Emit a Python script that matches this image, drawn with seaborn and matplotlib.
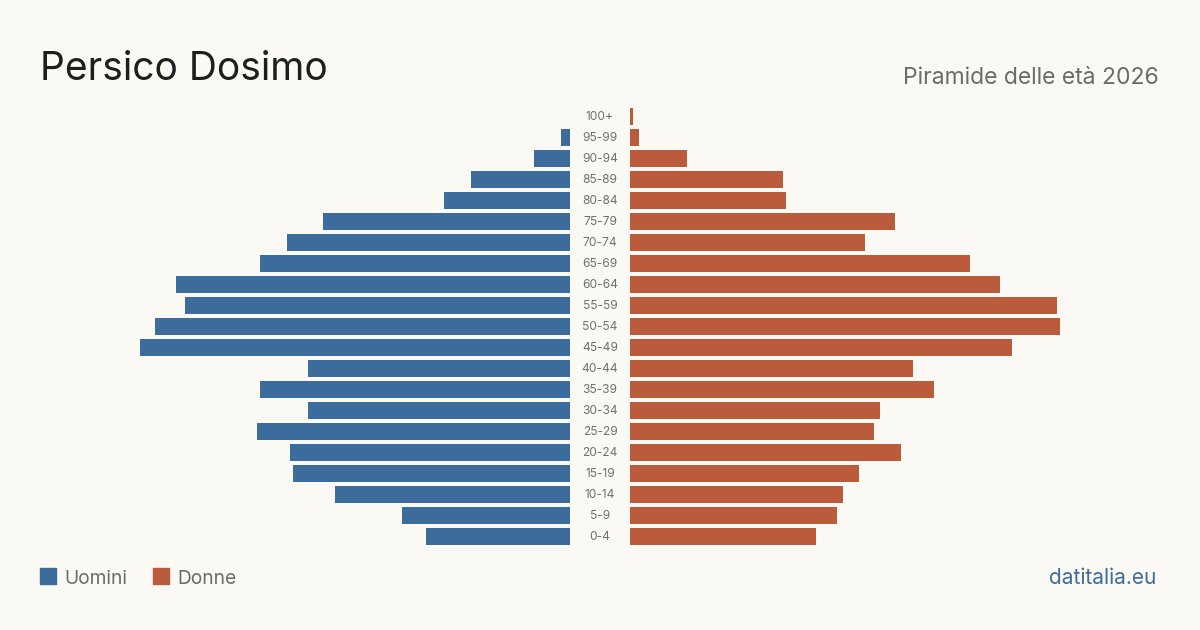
import matplotlib
matplotlib.use("Agg")
import matplotlib.pyplot as plt
import matplotlib.transforms as mtransforms
from matplotlib.patches import Rectangle
import seaborn as sns
import pandas as pd

# ---- data ----
age_groups = ["100+", "95-99", "90-94", "85-89", "80-84", "75-79", "70-74",
              "65-69", "60-64", "55-59", "50-54", "45-49", "40-44", "35-39",
              "30-34", "25-29", "20-24", "15-19", "10-14", "5-9", "0-4"]
uomini = [0, 3, 12, 33, 42, 82, 94, 103, 131, 128, 138, 143, 87, 103,
          87, 104, 93, 92, 78, 56, 48]
donne = [1, 3, 19, 51, 52, 88, 78, 113, 123, 142, 143, 127, 94, 101,
         83, 81, 90, 76, 71, 69, 62]

title = "Persico Dosimo"
subtitle = "Piramide delle età 2026"
legend_labels = ["Uomini", "Donne"]
source = "datitalia.eu"

# ---- style ----
BG = "#FAF9F4"
BLUE = "#3B6C9C"
ORANGE = "#BA5C3C"
GREY = "#6B6B6B"
DARK = "#1E1E1E"

sns.set_theme(style="white")
plt.rcParams["font.family"] = ["Inter", "DejaVu Sans"]

W, H = 1200, 630
fig = plt.figure(figsize=(W / 100, H / 100), dpi=100, facecolor=BG)

df = pd.DataFrame({"age": age_groups, "Uomini": uomini, "Donne": donne})

px_per_unit = 430 / 143.0
axes_w = 470  # px
top_px, bot_px = 105.5, 546.5

def fx(px):
    return px / W

def fy(py):
    return 1 - py / H

ax_h = (bot_px - top_px) / H
ax_l = fig.add_axes([fx(570 - axes_w), fy(bot_px), axes_w / W, ax_h])
ax_r = fig.add_axes([fx(630), fy(bot_px), axes_w / W, ax_h])

bar_w = 17 / 21
sns.barplot(data=df, y="age", x="Uomini", order=age_groups, color=BLUE,
            width=bar_w, saturation=1, ax=ax_l, orient="h", linewidth=0)
sns.barplot(data=df, y="age", x="Donne", order=age_groups, color=ORANGE,
            width=bar_w, saturation=1, ax=ax_r, orient="h", linewidth=0)

xmax = axes_w / px_per_unit
ax_l.set_xlim(xmax, 0)
ax_r.set_xlim(0, xmax)
for ax in (ax_l, ax_r):
    ax.set_ylim(len(age_groups) - 0.5, -0.5)
    ax.set_facecolor("none")
    ax.set_xlabel("")
    ax.set_ylabel("")
    ax.set_xticks([])
    ax.set_yticks([])
    for s in ax.spines.values():
        s.set_visible(False)

# age labels in the middle
trans = mtransforms.blended_transform_factory(fig.transFigure, ax_l.transData)
for i, lab in enumerate(age_groups):
    fig.text(fx(600), i + 0.03, lab, transform=trans, ha="center", va="center",
             fontsize=8.6, color="#707070")

# title & subtitle
fig.text(fx(40), fy(80), title, fontsize=28, color=DARK, ha="left",
         va="baseline")
fig.text(fx(1159), fy(84.5), subtitle, fontsize=16.5, color=GREY, ha="right",
         va="baseline")

# legend
for (x0, lab, col) in [(40, legend_labels[0], BLUE), (153, legend_labels[1], ORANGE)]:
    fig.patches.append(Rectangle((fx(x0), fy(584)), 16 / W, 16 / H,
                                 transform=fig.transFigure, color=col))
    fig.text(fx(x0 + 24), fy(583.5), lab, fontsize=13.8, color=GREY,
             ha="left", va="baseline")

fig.text(fx(1156), fy(583.5), source, fontsize=15, color=BLUE, ha="right",
         va="baseline")

fig.savefig("out.png", dpi=100, facecolor=BG)
